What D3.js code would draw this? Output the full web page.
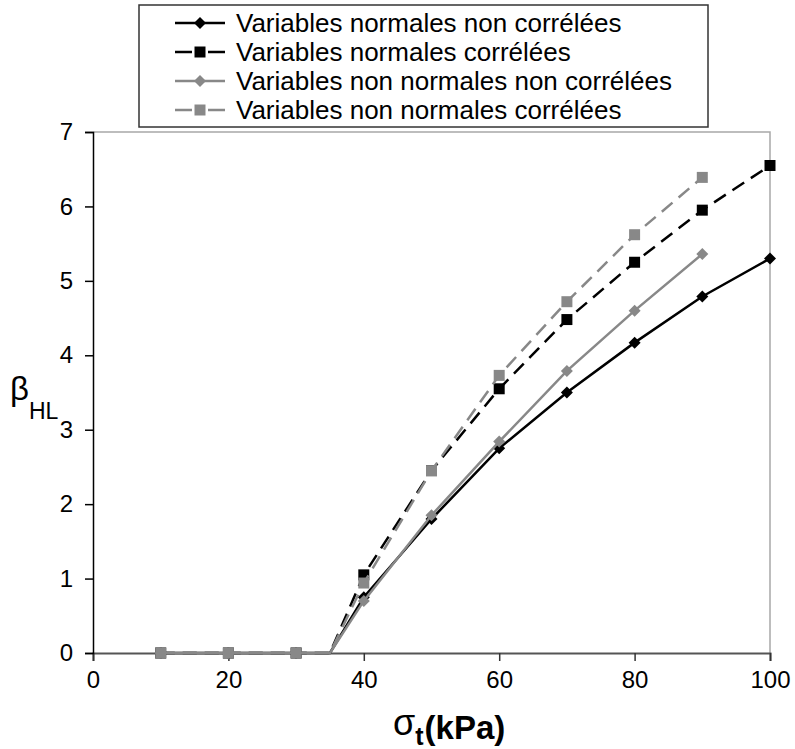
<!DOCTYPE html>
<html>
<head>
<meta charset="utf-8">
<script src="https://cdn.jsdelivr.net/npm/d3@7"></script>
<style>
  body { margin: 0; background: #fff; }
  text { font-family: "Liberation Sans", Arial, sans-serif; }
</style>
</head>
<body>
<div id="chart"></div>
<script>
// sigma_t (kPa) values; 35 is the threshold point (drawn without marker)
var sigma = [10, 20, 30, 35, 40, 50, 60, 70, 80, 90, 100];
var noMarkerAt = [35];

var normNonCorr = [0, 0, 0, 0, 0.75, 1.80, 2.75, 3.50, 4.17, 4.79, 5.30];
var normCorr = [0, 0, 0, 0, 1.05, 2.45, 3.55, 4.48, 5.25, 5.95, 6.55];
var nonNormNonCorr = [0, 0, 0, 0, 0.70, 1.85, 2.84, 3.79, 4.60, 5.36, null];
var nonNormCorr = [0, 0, 0, 0, 0.94, 2.45, 3.73, 4.72, 5.62, 6.39, null];

var seriesNames = [
    "Variables normales non corrélées",
    "Variables normales corrélées",
    "Variables non normales non corrélées",
    "Variables non normales corrélées"
];

var xTicks = [0, 20, 40, 60, 80, 100];
var yTicks = [0, 1, 2, 3, 4, 5, 6, 7];

function Chart(){
    var w = 795;
    var h = 749;
    var left = 93, top = 132, right = 770, bottom = 653;

    var series = [
        {name: seriesNames[0], values: normNonCorr, color: "#000", dash: null, shape: "diamond"},
        {name: seriesNames[1], values: normCorr, color: "#000", dash: "14,8", shape: "square"},
        {name: seriesNames[2], values: nonNormNonCorr, color: "#888", dash: null, shape: "diamond"},
        {name: seriesNames[3], values: nonNormCorr, color: "#888", dash: "14,8", shape: "square"}
    ];

    var svg = d3.select("#chart")
                .append("svg")
                .attr("width", w)
                .attr("height", h);

    var x = d3.scaleLinear()
                .domain([0, 100])
                .range([left, right]);

    var y = d3.scaleLinear()
                .domain([0, 7])
                .range([bottom, top]);

    // frame top + right
    svg.append("path")
        .attr("d", "M" + left + "," + top + "H" + right + "V" + bottom)
        .attr("fill", "none")
        .attr("stroke", "#a8a8a8")
        .attr("stroke-width", 1.5);

    // x axis
    var xAxis = d3.axisBottom(x)
                    .tickValues(xTicks)
                    .tickFormat(d3.format("d"))
                    .tickSize(8)
                    .tickPadding(10);

    var gx = svg.append("g")
        .attr("transform", "translate(0," + bottom + ")")
        .call(xAxis);
    gx.select(".domain").attr("stroke", "#555").attr("stroke-width", 2);
    gx.selectAll(".tick line").attr("stroke", "#333").attr("stroke-width", 1.5);
    gx.selectAll(".tick text")
        .attr("font-size", 24)
        .attr("fill", "#000")
        .attr("font-family", "Liberation Sans, Arial, sans-serif");

    // y axis
    var yAxis = d3.axisLeft(y)
                    .tickValues(yTicks)
                    .tickFormat(d3.format("d"))
                    .tickSize(8)
                    .tickPadding(12);

    var gy = svg.append("g")
        .attr("transform", "translate(" + left + ",0)")
        .call(yAxis);
    gy.select(".domain").attr("stroke", "#000").attr("stroke-width", 1.5);
    gy.selectAll(".tick line").attr("stroke", "#000").attr("stroke-width", 1.5);
    gy.selectAll(".tick text")
        .attr("font-size", 24)
        .attr("fill", "#000")
        .attr("font-family", "Liberation Sans, Arial, sans-serif");

    // axis titles
    var xt = svg.append("text")
        .attr("x", 393)
        .attr("y", 735);
    xt.append("tspan").attr("font-size", 36).text("σ");
    xt.append("tspan").attr("font-size", 25).attr("font-weight", "bold").attr("dy", 10).text("t");
    xt.append("tspan").attr("font-size", 33).attr("font-weight", "bold").attr("dy", -6).attr("dx", 1).text("(kPa)");

    var yt = svg.append("text")
        .attr("x", 10)
        .attr("y", 400);
    yt.append("tspan").attr("font-size", 33).text("β");
    yt.append("tspan").attr("font-size", 23).attr("dy", 19).text("HL");

    var line = d3.line()
        .defined(function(d){ return d[1] !== null; })
        .x(function(d){ return x(d[0]); })
        .y(function(d){ return y(d[1]); });

    var symSquare = d3.symbol().type(d3.symbolSquare).size(121);
    var symDiamond = d3.symbol().type(d3.symbolSquare).size(72);

    function marker(g, shape, color, cx, cy){
        g.append("path")
            .attr("d", shape === "square" ? symSquare() : symDiamond())
            .attr("transform", "translate(" + cx + "," + cy + ")" + (shape === "diamond" ? " rotate(45)" : ""))
            .attr("fill", color);
    }

    series.forEach(function(s){
        var pts = sigma.map(function(v, i){ return [v, s.values[i]]; });
        var g = svg.append("g");
        g.append("path")
            .datum(pts)
            .attr("d", line)
            .attr("fill", "none")
            .attr("stroke", s.color)
            .attr("stroke-width", 2.5)
            .attr("stroke-dasharray", s.dash);
        pts.forEach(function(p){
            if (p[1] === null || noMarkerAt.indexOf(p[0]) >= 0) return;
            marker(g, s.shape, s.color, x(p[0]), y(p[1]));
        });
    });

    // legend
    var lg = svg.append("g");
    lg.append("rect")
        .attr("x", 139)
        .attr("y", 5)
        .attr("width", 569)
        .attr("height", 122)
        .attr("fill", "#fff")
        .attr("stroke", "#333")
        .attr("stroke-width", 1.5);

    series.forEach(function(s, i){
        var cy = 23 + i * 29;
        lg.append("line")
            .attr("x1", 175).attr("x2", 225)
            .attr("y1", cy).attr("y2", cy)
            .attr("stroke", s.color)
            .attr("stroke-width", 2.5)
            .attr("stroke-dasharray", s.dash ? "17,16" : null);
        marker(lg, s.shape, s.color, 200, cy);
        lg.append("text")
            .attr("x", 236)
            .attr("y", cy + 9)
            .attr("font-size", 26)
            .attr("fill", "#000")
            .text(s.name);
    });
}

window.onload = Chart();
</script>
</body>
</html>
